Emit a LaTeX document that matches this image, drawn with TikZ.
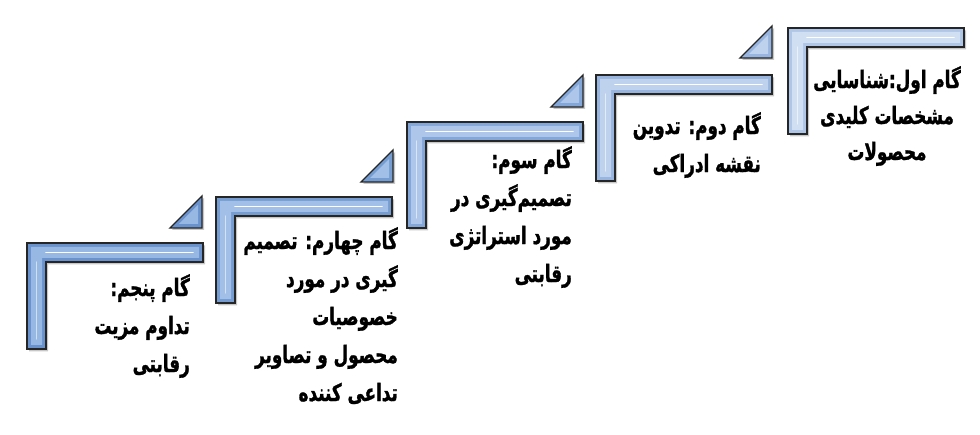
\documentclass[tikz,border=0pt]{standalone}
\usepackage{fontspec}
\newfontfamily\arabicfont[Script=Arabic,FakeStretch=0.7,FakeBold=1.2]{DejaVu Sans}
\TeXXeTstate=1
\definecolor{o5}{HTML}{6A93CD}\definecolor{i5}{HTML}{98B8E4}
\definecolor{o4}{HTML}{769DD2}\definecolor{i4}{HTML}{A2BFE7}
\definecolor{o3}{HTML}{83A7D8}\definecolor{i3}{HTML}{ADC6EA}
\definecolor{o2}{HTML}{98B5DF}\definecolor{i2}{HTML}{BED2EE}
\definecolor{o1}{HTML}{B0C6E7}\definecolor{i1}{HTML}{D1DFF3}
\tikzset{
  lshape/.style={draw=black!85, line width=1.3pt, line join=miter},
  shade/.style={fill=black, opacity=0.22},
  steptext/.style={font=\arabicfont\bfseries\fontsize{24}{38}\selectfont, align=right, inner sep=0pt, anchor=north east},
}
\newcommand\stairL[4]{%
  \begin{scope}[shift={(#1,#2)}]
    \fill[shade] (2,2.5) -- (178,2.5) -- (178,21.5) -- (21,21.5) -- (21,108.5) -- (2,108.5) -- cycle;
    \filldraw[lshape, fill=#3] (0,0) -- (176,0) -- (176,19) -- (19,19) -- (19,106) -- (0,106) -- cycle;
    \fill[#4] (4,4) -- (172,4) -- (172,15) -- (15,15) -- (15,102) -- (4,102) -- cycle;
    \draw[white, line width=1.6pt, line cap=round] (19,9.5) -- (166,9.5);
    \draw[white!55!#4, line width=1.4pt, line cap=round] (9.5,19) -- (9.5,96);
  \end{scope}}
\newcommand\stairT[4]{%
  \begin{scope}[shift={(#1,#2)}]
    \fill[shade] (-30,2) -- (2,-30) -- (2,2) -- cycle;
    \filldraw[lshape, fill=#3] (-32,0) -- (0,-32) -- (0,0) -- cycle;
    \fill[#4] (-23,-4) -- (-4,-23) -- (-4,-4) -- cycle;
  \end{scope}}
\begin{document}
\begin{tikzpicture}[x=1pt,y=-1pt]
  \useasboundingbox[fill=white] (0,0) rectangle (980,435);
  % step shapes
  \stairL{27}{243}{o5}{i5}
  \stairT{202}{228}{o5}{i5}
  \stairL{216}{197}{o4}{i4}
  \stairT{393}{182}{o4}{i4}
  \stairL{407}{122}{o3}{i3}
  \stairT{583}{107}{o3}{i3}
  \stairL{596}{75}{o2}{i2}
  \stairT{772}{58}{o2}{i2}
  \stairL{788}{28}{o1}{i1}
  % texts
  \node[steptext] (t5) at (190,274) {\beginR گام پنجم:\endR\\ \beginR تداوم مزیت\endR\\ \beginR رقابتی\endR};
  \node[steptext] (t4) at (398,227) {\beginR گام چهارم: تصمیم\endR\\ \beginR گیری در مورد\endR\\ \beginR خصوصیات\endR\\ \beginR محصول و تصاویر\endR\\ \beginR تداعی کننده\endR};
  \node[steptext] (t3) at (572,146) {\beginR گام سوم:\endR\\ \beginR تصمیم^^^^200cگیری در\endR\\ \beginR مورد استراتژی\endR\\ \beginR رقابتی\endR};
  \node[steptext] (t2) at (761,112) {\beginR گام دوم: تدوین\endR\\ \beginR نقشه ادراکی\endR};
  \node[steptext, align=center, anchor=north, font=\arabicfont\bfseries\fontsize{24}{36}\selectfont] (t1) at (887,66) {\beginR گام اول:شناسایی\endR\\ \beginR مشخصات کلیدی\endR\\ \beginR محصولات\endR};
\end{tikzpicture}
\end{document}
